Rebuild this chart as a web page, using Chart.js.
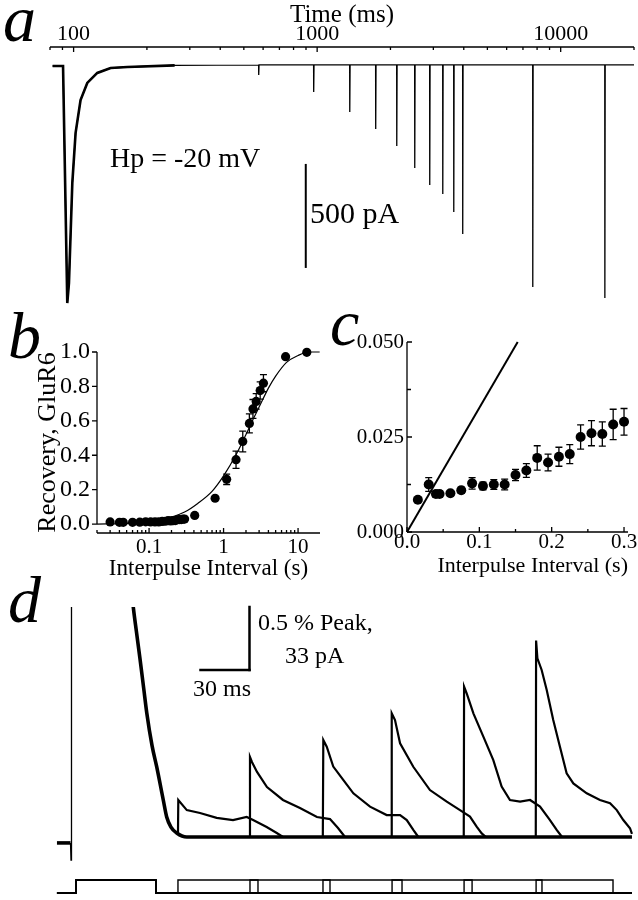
<!DOCTYPE html>
<html><head><meta charset="utf-8">
<script src="https://cdn.jsdelivr.net/npm/chart.js@4.4.1/dist/chart.umd.min.js"></script>
<style>
html,body{margin:0;padding:0;background:#fff;}
#fig{position:relative;width:638px;height:900px;overflow:hidden;background:#fff;font-family:'Liberation Serif','Times New Roman',serif;color:#000;}
canvas{position:absolute;}
.t{position:absolute;white-space:nowrap;line-height:1;}
.lt{font-style:italic;font-size:66px;}
</style></head><body>
<div id="fig">
<canvas id="ca" width="638" height="312" style="left:0;top:0"></canvas>
<canvas id="cb" width="330" height="262" style="left:0;top:330px"></canvas>
<canvas id="cc" width="308" height="272" style="left:330px;top:320px"></canvas>
<canvas id="cd" width="638" height="300" style="left:0;top:600px"></canvas>
<div class="t lt" style="left:3px;top:-14px">a</div>
<div class="t lt" style="left:8px;top:303px">b</div>
<div class="t lt" style="left:330px;top:290px">c</div>
<div class="t lt" style="left:8px;top:567px">d</div>
<div class="t" style="left:110px;top:144px;font-size:28px">Hp = -20 mV</div>
<div class="t" style="left:310px;top:198px;font-size:30px">500 pA</div>
<div class="t" style="left:258px;top:610px;font-size:24px">0.5 % Peak,</div>
<div class="t" style="left:285px;top:643px;font-size:24px">33 pA</div>
<div class="t" style="left:193px;top:676px;font-size:24px">30 ms</div>
</div>
<script>
const SERIF = "'Liberation Serif','Times New Roman',serif";

// ---------- Panel a : current trace vs time (log) ----------
const aTimeMajor = [100, 1000, 10000];
const aTimeMinor = [80, 90, 200, 300, 400, 500, 600, 700, 800, 900, 2000, 3000, 4000, 5000, 6000, 7000, 8000, 9000, 20000];
const aFirstTime = [82, 90.5, 94.2, 95.7, 98.8, 101.9, 106.8, 113.8, 125.1, 141.9, 166.3, 260];
const aFirstCurrent = [-5, -5, -1167, -1069, -578, -333, -172, -88, -39, -15, -10, -2];
const aPulseTime = [575, 967, 1360, 1738, 2121, 2514, 2897, 3277, 3636, 3957, 7674, 15170];
const aPulsePeak = [-49, -132, -230, -314, -397, -505, -588, -632, -721, -828, -1088, -1142];
const aTraceEnd = 20000;

// ---------- Panels b & c : recovery data ----------
const shortInterval = [0.015,0.03,0.04,0.045,0.06,0.075,0.09,0.105,0.12,0.135,0.15,0.165,0.18,0.195,0.21,0.225,0.24,0.255,0.27,0.285,0.30];
const shortRecovery = [0.0085,0.0125,0.0100,0.0100,0.0102,0.0110,0.0128,0.0121,0.0125,0.0125,0.0150,0.0162,0.0195,0.0183,0.0198,0.0205,0.0250,0.0260,0.0258,0.0283,0.0290];
const shortSEM = [0.0005,0.0018,0.0008,0.0008,0.0007,0.0008,0.0015,0.0010,0.0013,0.0014,0.0015,0.0018,0.0032,0.0022,0.0025,0.0025,0.0032,0.0033,0.0032,0.0040,0.0035];
const longInterval = [0.41,0.77,1.1,1.47,1.81,2.22,2.48,2.74,3.1,3.43,6.8,13.1];
const longRecovery = [0.05,0.15,0.26,0.374,0.48,0.585,0.669,0.713,0.776,0.819,0.973,0.998];
const longSEM = [0.005,0.005,0.03,0.05,0.06,0.055,0.055,0.045,0.05,0.05,0.01,0.01];
const fitInterval = [0.02,0.05,0.1,0.15,0.2,0.3,0.45,0.7,1.0,1.5,2.0,2.5,3.0,4.0,5.0,7.0,10,14,19.5];
const fitRecovery = [0.0,0.003,0.012,0.025,0.04,0.07,0.12,0.19,0.28,0.41,0.52,0.61,0.68,0.79,0.86,0.94,0.98,1.0,1.0];
const bTickMajor = [0.1, 1, 10];
const bTickMinor = [0.02,0.03,0.04,0.05,0.06,0.07,0.08,0.09,0.2,0.3,0.4,0.5,0.6,0.7,0.8,0.9,2,3,4,5,6,7,8,9];
const bYTicks = [0, 0.2, 0.4, 0.6, 0.8, 1.0];
const cXTicks = [0, 0.1, 0.2, 0.3];
const cXMinor = [0.05, 0.15, 0.25];
const cYTicks = [0, 0.025, 0.05];
const cYMinor = [0.0125, 0.0375];
const cLineX = [0, 0.153];
const cLineY = [0, 0.050];

// ---------- Panel d : overlaid sweeps (ms, pA) ----------
const dPreTime = [-8.6, -0.3];
const dPreCurrent = [-3.1, -3.1];
const dArtifactTime = [-0.3, 0, 0.3, 34.9, 38.2];
const dArtifactCurrent = [-3.1, -12.1, 150, 150, 120];
const dDecayTime = [37.0,38.2,40.0,42.3,44.5,46.4,49.6,52.5,56.5,58.6,61.2,64.7,70.9,343.5];
const dDecayCurrent = [130,120,108,93,78,65,48,36.7,19.4,10.5,5.2,2.1,0,0];
const dSweep1Time = [65.5,65.7,70.9,79.0,89.2,99.2,107.6,111.5,119.8,126.0,129.8];
const dSweep1Current = [1.0,19.4,14.1,12.6,10.0,8.9,10.5,8.9,5.2,2.1,0];
const dSweep2Time = [109.4,109.6,110.8,113.9,120.0,129.8,140.2,150.6,158.6,163.5,167.8];
const dSweep2Current = [0,41.9,39.3,34.1,26.2,19.4,15.2,10.5,9.4,4.7,0];
const dSweep3Time = [154.2,154.5,156.6,160.6,166.7,172.9,183.1,193.3,201.5,205.6,209.6,212.7];
const dSweep3Current = [0,50.8,47.3,36.9,29.9,22.9,15.9,11.5,11.5,8.9,3.7,0];
const dSweep4Time = [196.3,196.4,198.4,201.5,209.6,219.8,230.1,238.2,244.3,248.4,251.5,254.1];
const dSweep4Current = [0,64.8,61.3,49.1,36.8,24.6,18.5,14.1,10.7,5.4,1.9,0];
const dSweep5Time = [240.5,240.7,242.3,246.4,252.5,258.6,263.7,268.8,275.0,281.1,287.2,293.3,297.4,300.7];
const dSweep5Current = [0,78.8,75.3,64.8,52.6,40.3,26.4,19.4,18.5,19.4,15.9,8.9,3.7,0];
const dSweep6Time = [284.6,284.8,285.6,288.2,291.3,295.3,299.4,303.5,307.6,315.8,323.9,330.1,334.2,338.2,342.3,343.5];
const dSweep6Current = [0,102.9,93.6,87.5,77.0,61.3,47.3,33.4,28.1,22.9,19.4,17.7,14.1,8.9,4.6,1.6];
const stimPulse1 = [3.1, 52.0];
const stimPulse2On = [65.5,109.6,154.3,196.6,240.7,284.8];
const stimPulse2Off = [114.5,158.6,202.7,245.6,288.4,331.9];
const stimStart = -8.6, stimEnd = 343.5;

// ---------- helpers ----------
const xy = (xs, ys) => xs.map((x, i) => ({x, y: ys[i]}));

function axesPlugin(list) {
  return { id: 'axesPainter', afterDraw(chart) {
    const ctx = chart.ctx, ca = chart.chartArea;
    ctx.save(); ctx.strokeStyle = '#000'; ctx.lineCap = 'butt';
    list.forEach(a => {
      const s = chart.scales[a.scale], p = v => s.getPixelForValue(v);
      ctx.lineWidth = a.lw || 1.3;
      ctx.beginPath();
      if (s.isHorizontal()) {
        const y = a.side === 'top' ? ca.top : ca.bottom;
        ctx.moveTo(p(a.from), y); ctx.lineTo(p(a.to), y);
        a.major.forEach(v => { const x = p(v); ctx.moveTo(x, y); ctx.lineTo(x, y + a.sign * a.majorLen); });
        (a.minor || []).forEach(v => { const x = p(v); ctx.moveTo(x, y); ctx.lineTo(x, y + a.sign * a.minorLen); });
      } else {
        const x = ca.left;
        ctx.moveTo(x, p(a.from)); ctx.lineTo(x, p(a.to));
        a.major.forEach(v => { const y = p(v); ctx.moveTo(x, y); ctx.lineTo(x + a.sign * a.majorLen, y); });
        (a.minor || []).forEach(v => { const y = p(v); ctx.moveTo(x, y); ctx.lineTo(x + a.sign * a.minorLen, y); });
      }
      ctx.stroke();
    });
    ctx.restore();
  }};
}
function errorPlugin(sets) {
  return { id: 'errorBars', afterDatasetsDraw(chart) {
    const ctx = chart.ctx, sx = chart.scales.x, sy = chart.scales.y;
    ctx.save(); ctx.strokeStyle = '#000'; ctx.lineWidth = 1.3;
    sets.forEach(st => {
      st.xs.forEach((xv, i) => {
        if (xv < sx.min || xv > sx.max) return;
        const x = sx.getPixelForValue(xv);
        const y1 = sy.getPixelForValue(st.ys[i] + st.err[i]);
        const y2 = sy.getPixelForValue(st.ys[i] - st.err[i]);
        ctx.beginPath();
        ctx.moveTo(x, y1); ctx.lineTo(x, y2);
        ctx.moveTo(x - st.cap, y1); ctx.lineTo(x + st.cap, y1);
        ctx.moveTo(x - st.cap, y2); ctx.lineTo(x + st.cap, y2);
        ctx.stroke();
      });
    });
    ctx.restore();
  }};
}
function barsPlugin(bars) {
  return { id: 'scaleBars', afterDraw(chart) {
    const ctx = chart.ctx;
    ctx.save(); ctx.strokeStyle = '#000'; ctx.lineCap = 'square';
    bars.forEach(b => {
      const sx = chart.scales.x, sy = chart.scales[b.yAxis || 'y'];
      ctx.lineWidth = b.lw;
      ctx.beginPath();
      ctx.moveTo(sx.getPixelForValue(b.x1), sy.getPixelForValue(b.y1));
      ctx.lineTo(sx.getPixelForValue(b.x2), sy.getPixelForValue(b.y2));
      ctx.stroke();
    });
    ctx.restore();
  }};
}
const baseOpts = { responsive: false, animation: false, events: [], devicePixelRatio: 1 };
const noLegend = { legend: { display: false }, tooltip: { enabled: false } };
const tickFont = { family: SERIF, size: 21 };

// ---------- Chart a ----------
const aTrace = xy(aFirstTime, aFirstCurrent);
aPulseTime.forEach((t, i) => { aTrace.push({x: t, y: 0}, {x: t * 1.001, y: aPulsePeak[i]}, {x: t * 1.004, y: 0}); });
aTrace.push({x: aTraceEnd, y: 0});
new Chart(document.getElementById('ca'), {
  type: 'scatter',
  data: { datasets: [
    { data: aTrace, showLine: true, borderColor: '#000', borderWidth: 1.3, pointRadius: 0, clip: 0 },
    { data: xy(aFirstTime, aFirstCurrent), showLine: true, borderColor: '#000', borderWidth: 2.6, pointRadius: 0, clip: 0 }
  ]},
  options: { ...baseOpts,
    layout: { padding: { left: 50, right: 4, top: 0, bottom: 2 } },
    plugins: noLegend,
    scales: {
      x: { type: 'logarithmic', position: 'top', min: 80, max: 20000,
        afterBuildTicks: s => { s.ticks = aTimeMajor.map(v => ({value: v})); },
        afterFit: s => { s.height = 47; },
        grid: { display: false, drawTicks: false }, border: { display: false },
        ticks: { font: { family: SERIF, size: 22 }, color: '#000', padding: 0, maxRotation: 0, autoSkip: false, callback: v => String(v) },
        title: { display: true, text: 'Time (ms)', color: '#000', font: { family: SERIF, size: 25 }, padding: { top: 0, bottom: 0 } } },
      y: { display: false, min: -1201, max: 88 }
    }
  },
  plugins: [
    axesPlugin([{ scale: 'x', side: 'top', from: 80, to: 20000, major: aTimeMajor, minor: aTimeMinor, sign: 1, majorLen: 5, minorLen: 3 }]),
    barsPlugin([{ x1: 898, y1: -490, x2: 898, y2: -990, lw: 2 }])
  ]
});

// ---------- Chart b ----------
new Chart(document.getElementById('cb'), {
  type: 'scatter',
  data: { datasets: [
    { data: xy(fitInterval, fitRecovery), showLine: true, borderColor: '#000', borderWidth: 1.2, pointRadius: 0, cubicInterpolationMode: 'monotone', clip: false },
    { data: xy(shortInterval, shortRecovery).filter(p => p.x >= 0.02).concat(xy(longInterval, longRecovery)), pointRadius: 4.6, pointBackgroundColor: '#000', pointBorderWidth: 0, clip: false }
  ]},
  options: { ...baseOpts,
    layout: { padding: { left: 0, right: 10, top: 22, bottom: 0 } },
    plugins: noLegend,
    scales: {
      x: { type: 'logarithmic', min: 0.02, max: 19.7,
        afterBuildTicks: s => { s.ticks = bTickMajor.map(v => ({value: v})); },
        afterFit: s => { s.height = 59; },
        grid: { display: false, drawTicks: false }, border: { display: false },
        ticks: { font: tickFont, color: '#000', padding: 2, maxRotation: 0, autoSkip: false, callback: v => String(v) },
        title: { display: true, text: 'Interpulse Interval (s)', color: '#000', font: { family: SERIF, size: 23 }, padding: { top: 0, bottom: 9 } } },
      y: { min: -0.052, max: 1.0,
        afterBuildTicks: s => { s.ticks = bYTicks.map(v => ({value: v})); },
        afterFit: s => { s.width = 97; },
        grid: { display: false, drawTicks: false }, border: { display: false },
        ticks: { font: { family: SERIF, size: 24 }, color: '#000', padding: 7, callback: v => v.toFixed(1) },
        title: { display: true, text: 'Recovery, GluR6', color: '#000', font: { family: SERIF, size: 26 }, padding: { top: 33, bottom: 0 } } }
    }
  },
  plugins: [
    axesPlugin([
      { scale: 'x', side: 'bottom', from: 0.02, to: 19.7, major: bTickMajor, minor: bTickMinor, sign: -1, majorLen: 5, minorLen: 3 },
      { scale: 'y', from: 0, to: 1.0, major: bYTicks, sign: -1, majorLen: 5 }
    ]),
    errorPlugin([{ xs: longInterval, ys: longRecovery, err: longSEM, cap: 3.5 }])
  ]
});

// ---------- Chart c ----------
new Chart(document.getElementById('cc'), {
  type: 'scatter',
  data: { datasets: [
    { data: xy(cLineX, cLineY), showLine: true, borderColor: '#000', borderWidth: 2, pointRadius: 0, clip: false },
    { data: xy(shortInterval, shortRecovery), pointRadius: 5, pointBackgroundColor: '#000', pointBorderWidth: 0, clip: false }
  ]},
  options: { ...baseOpts,
    layout: { padding: { left: 0, right: 10, top: 22, bottom: 0 } },
    plugins: noLegend,
    scales: {
      x: { type: 'linear', min: 0, max: 0.3055,
        afterBuildTicks: s => { s.ticks = cXTicks.map(v => ({value: v})); },
        afterFit: s => { s.height = 60; },
        grid: { display: false, drawTicks: false }, border: { display: false },
        ticks: { font: tickFont, color: '#000', padding: -2, maxRotation: 0, autoSkip: false, callback: v => v.toFixed(1) },
        title: { display: true, align: 'end', text: 'Interpulse Interval (s)', color: '#000', font: { family: SERIF, size: 22 }, padding: { top: 0, bottom: 13 } } },
      y: { min: 0, max: 0.05,
        afterBuildTicks: s => { s.ticks = cYTicks.map(v => ({value: v})); },
        afterFit: s => { s.width = 77; },
        grid: { display: false, drawTicks: false }, border: { display: false },
        ticks: { font: tickFont, color: '#000', padding: 3, callback: v => v.toFixed(3) } }
    }
  },
  plugins: [
    axesPlugin([
      { scale: 'x', side: 'bottom', from: 0, to: 0.3055, major: cXTicks, minor: cXMinor, sign: -1, majorLen: 5, minorLen: 3 },
      { scale: 'y', from: 0, to: 0.05, major: cYTicks, minor: cYMinor, sign: 1, majorLen: 5, minorLen: 4 }
    ]),
    errorPlugin([{ xs: shortInterval, ys: shortRecovery, err: shortSEM, cap: 3.5 }])
  ]
});

// ---------- Chart d ----------
const sweeps = [
  [dSweep1Time, dSweep1Current], [dSweep2Time, dSweep2Current], [dSweep3Time, dSweep3Current],
  [dSweep4Time, dSweep4Current], [dSweep5Time, dSweep5Current], [dSweep6Time, dSweep6Current]
];
const dDatasets = [
  { data: xy(dPreTime, dPreCurrent), showLine: true, borderColor: '#000', borderWidth: 3.6, pointRadius: 0, clip: 0, yAxisID: 'y' },
  { data: xy(dArtifactTime, dArtifactCurrent), showLine: true, borderColor: '#000', borderWidth: 1.3, pointRadius: 0, clip: 0, yAxisID: 'y' },
  { data: xy(dDecayTime, dDecayCurrent), showLine: true, borderColor: '#000', borderWidth: 3.6, pointRadius: 0, clip: 0, yAxisID: 'y', cubicInterpolationMode: 'monotone' }
];
sweeps.forEach(([t, c]) => dDatasets.push({ data: xy(t, c), showLine: true, borderColor: '#000', borderWidth: 2.2, pointRadius: 0, clip: 0, yAxisID: 'y' }));
stimPulse2On.forEach((on, i) => {
  const off = stimPulse2Off[i];
  dDatasets.push({ data: [
    {x: stimStart, y: 0}, {x: stimPulse1[0], y: 0}, {x: stimPulse1[0], y: 1}, {x: stimPulse1[1], y: 1}, {x: stimPulse1[1], y: 0},
    {x: on, y: 0}, {x: on, y: 1}, {x: off, y: 1}, {x: off, y: 0}, {x: stimEnd, y: 0}
  ], showLine: true, borderColor: '#000', borderWidth: 1.4, pointRadius: 0, clip: false, yAxisID: 'ys' });
});
new Chart(document.getElementById('cd'), {
  type: 'scatter',
  data: { datasets: dDatasets },
  options: { ...baseOpts,
    layout: { padding: { left: 50, right: 0, top: 7, bottom: 0 } },
    plugins: noLegend,
    scales: {
      x: { type: 'linear', display: false, min: -12.86, max: 347.2 },
      y: { display: false, min: -33.0, max: 120.5 },
      ys: { display: false, min: -0.54, max: 22.0 }
    }
  },
  plugins: [ barsPlugin([
    { x1: 109.3, y1: 120.5, x2: 109.3, y2: 87.5, lw: 2.5 },
    { x1: 79.3, y1: 87.5, x2: 109.3, y2: 87.5, lw: 2.5 }
  ]) ]
});
</script>
</body></html>
